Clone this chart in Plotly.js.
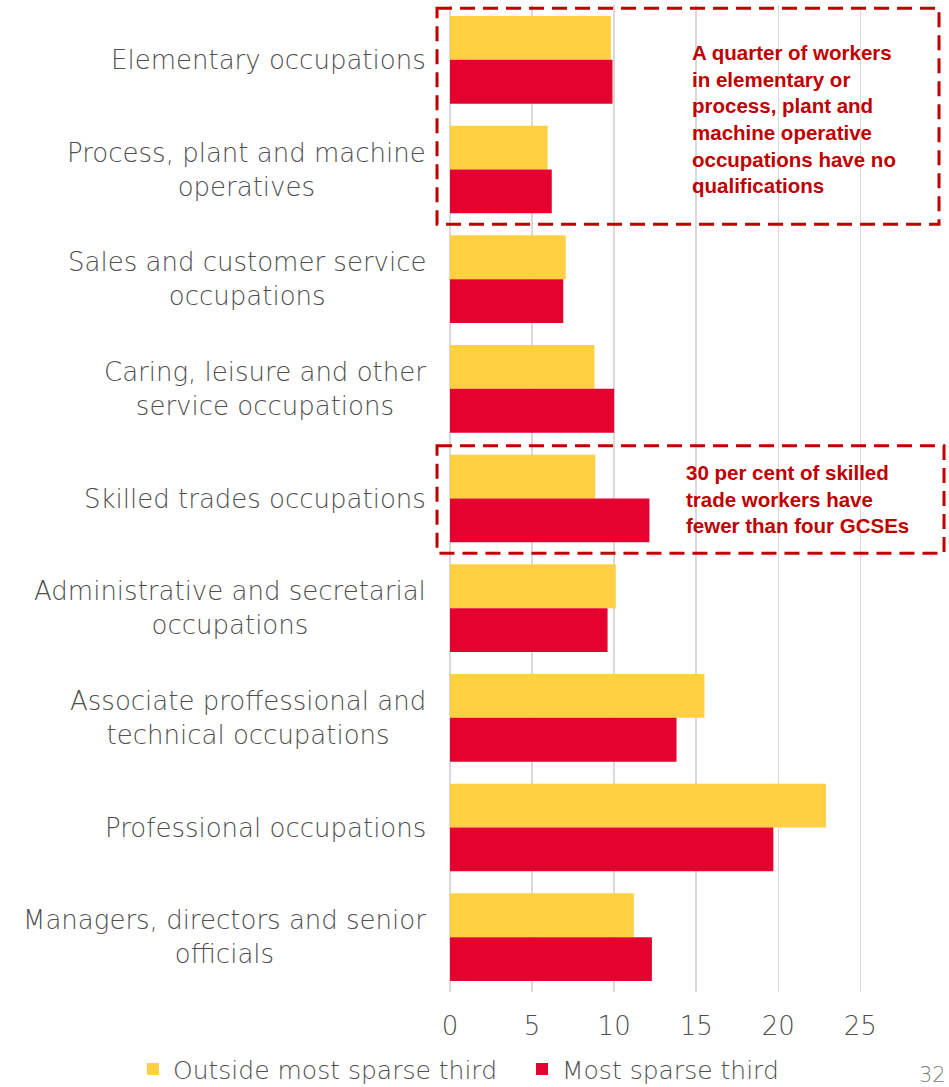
<!DOCTYPE html>
<html>
<head>
<meta charset="utf-8">
<script src="https://cdn.plot.ly/plotly-3.0.1.min.js"></script>
<style>html,body{margin:0;padding:0;background:#fff;}#chart{width:949px;height:1087px;}</style>
</head>
<body>
<div id="chart"></div>
<script>
const categories = [
  "Elementary occupations",
  "Process, plant and machine<br>operatives",
  "Sales and customer service<br>occupations",
  "Caring, leisure and other<br>service occupations",
  "Skilled trades occupations",
  "Administrative and secretarial<br>occupations",
  "Associate proffessional and<br>technical occupations",
  "Professional occupations",
  "Managers, directors and senior<br>officials"
];
const outsideSparse = [9.8, 5.95, 7.05, 8.8, 8.85, 10.1, 15.5, 22.9, 11.2];
const mostSparse    = [9.9, 6.2, 6.9, 10.0, 12.15, 9.6, 13.8, 19.7, 12.3];
const seriesNames = ["Outside most sparse third", "Most sparse third"];
const tickValues = [0, 5, 10, 15, 20, 25];
const note1 = "A quarter of workers<br>in elementary or<br>process, plant and<br>machine operative<br>occupations have no<br>qualifications";
const note2 = "30 per cent of skilled<br>trade workers have<br>fewer than four GCSEs";
const pageNumber = "32";

const FONT = "DejaVu Sans, sans-serif";
const NOTE_FONT = "Liberation Sans, Arial, sans-serif";
const GREY = "#4f4f4f";
const NOTE_RED = "#C00000";

const traces = [
  {type: "bar", orientation: "h", name: seriesNames[0], y: categories, x: outsideSparse,
   marker: {color: "#FFD042"}, hoverinfo: "x", legend: "legend"},
  {type: "bar", orientation: "h", name: seriesNames[1], y: categories, x: mostSparse,
   marker: {color: "#E4032E"}, hoverinfo: "x", legend: "legend2"}
];

const annotations = categories.map(c => ({
  xref: "paper", yref: "y", x: 0, y: c, xanchor: "right", yanchor: "middle",
  xshift: -22, text: c, showarrow: false, align: "center",
  font: {family: FONT, size: 26, color: GREY, weight: 300}
}));
annotations.push({
  xref: "x", yref: "y", x: 14.6, y: 0.54, xanchor: "left", yanchor: "middle",
  text: note1, showarrow: false, align: "left",
  font: {family: NOTE_FONT, size: 20.5, color: NOTE_RED, weight: "bold"}
});
annotations.push({
  xref: "x", yref: "y", x: 14.25, y: 4, xanchor: "left", yanchor: "middle",
  text: note2, showarrow: false, align: "left",
  font: {family: NOTE_FONT, size: 20.5, color: NOTE_RED, weight: "bold"}
});
annotations.push({
  xref: "paper", yref: "paper", x: 1, y: -0.084, xanchor: "left", yanchor: "middle",
  xshift: -32, text: pageNumber, showarrow: false,
  font: {family: FONT, size: 21, color: "#808080", weight: 300}
});

const boxLine = {color: NOTE_RED, width: 3, dash: "15px,8px"};
const shapes = [
  {type: "rect", xref: "paper", yref: "y", x0: -0.026, x1: 0.98, y0: -0.47, y1: 1.5, line: boxLine},
  {type: "rect", xref: "paper", yref: "y", x0: -0.026, x1: 0.99, y0: 3.52, y1: 4.5, line: boxLine}
];

const legendFont = {family: FONT, size: 25, color: GREY, weight: 300};
const layout = {
  width: 949, height: 1087,
  margin: {l: 450, r: 0, t: 5, b: 95, autoexpand: false},
  paper_bgcolor: "#fff", plot_bgcolor: "#fff",
  barmode: "group", bargap: 0.2, bargroupgap: 0,
  showlegend: true,
  legend: {orientation: "h", xref: "container", x: 133 / 949, xanchor: "left",
           y: -0.055, yanchor: "top", font: legendFont, itemwidth: 30,
           bgcolor: "rgba(0,0,0,0)"},
  legend2: {orientation: "h", xref: "container", x: 522 / 949, xanchor: "left",
           y: -0.055, yanchor: "top", font: legendFont, itemwidth: 30,
           bgcolor: "rgba(0,0,0,0)"},
  xaxis: {range: [0, 30.4], tickvals: tickValues, showgrid: true, gridcolor: "#D9D9D9",
          gridwidth: 1.5, zeroline: true, zerolinecolor: "#D9D9D9", zerolinewidth: 1.5,
          showline: false, ticks: "", ticklabelstandoff: 16,
          tickfont: {family: FONT, size: 26, color: GREY, weight: 300}, fixedrange: true},
  yaxis: {autorange: "reversed", showticklabels: false, showgrid: false, zeroline: false,
          showline: false, ticks: "", fixedrange: true},
  annotations: annotations,
  shapes: shapes
};

Plotly.newPlot("chart", traces, layout, {displayModeBar: false, staticPlot: true});
</script>
</body>
</html>
